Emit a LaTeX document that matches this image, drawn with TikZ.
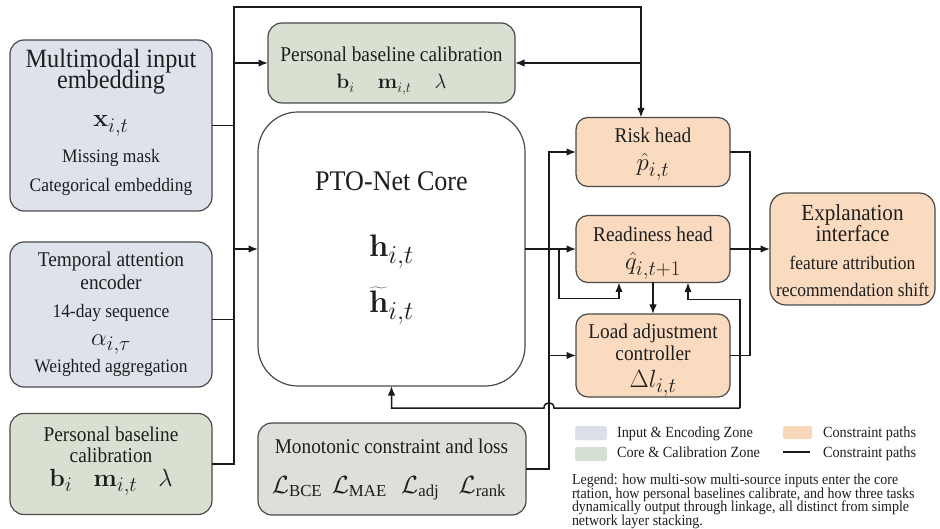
\documentclass[tikz,border=0pt]{standalone}
\usepackage{graphicx}
\usepackage{fontspec}
\setmainfont{Liberation Serif}
\DeclareMathAlphabet{\mbf}{OT1}{cmr}{bx}{n}
\newcommand\sz[2]{\fontsize{#1}{#2}\selectfont\addfontfeatures{FakeStretch=0.92}}
\usetikzlibrary{arrows.meta,calc}

\definecolor{edge}{HTML}{4A4A4A}
\definecolor{wire}{HTML}{1A1A1A}
\definecolor{ink}{HTML}{1E1E1E}
\definecolor{blueF}{HTML}{DDE2EB}
\definecolor{greenF}{HTML}{D8E0D1}
\definecolor{orangeF}{HTML}{FADBBF}
\definecolor{grayF}{HTML}{E0DEDA}
\definecolor{blueL}{HTML}{DADFE8}
\definecolor{greenL}{HTML}{D6DFD3}
\definecolor{orangeL}{HTML}{F8D8B8}

\begin{document}
\begin{tikzpicture}[x=1pt,y=-1pt,
  every node/.style={inner sep=0pt, outer sep=0pt},
  box/.style={draw=edge, line width=1.2pt, rounded corners=14pt},
  headbox/.style={box, fill=orangeF, rounded corners=12pt, minimum width=154pt},
  lbl/.style={anchor=base, text=ink},
  ttl/.style={lbl, font=\sz{26.4}{28}},
  hd/.style={lbl, font=\sz{21}{23}},
  sm/.style={lbl, font=\sz{19}{21}},
  mth/.style={lbl, font=\sz{24.88}{27}},
  lgd/.style={anchor=base west, text=ink, font=\sz{15.5}{16}},
  note/.style={anchor=base west, text=ink, font=\sz{15.2}{15}},
  swatch/.style={rounded corners=2pt, minimum width=32pt, minimum height=14pt},
  conn/.style={line width=1.5pt, draw=wire},
  arr/.style={conn, -{Latex[length=9.5pt,width=7.5pt]}},
]
\fill[white] (0,0) rectangle (940,529);
\useasboundingbox (0,0) rectangle (940,529);

% ---------- boxes ----------
\node[box, fill=blueF, minimum width=202pt, minimum height=171pt] (inp) at (111,125.5) {};
\node[box, fill=blueF, minimum width=202pt, minimum height=145pt] (tae) at (111,314.5) {};
\node[box, fill=greenF, minimum width=202pt, minimum height=101pt] (cal1) at (111,464) {};
\node[box, fill=greenF, minimum width=247pt, minimum height=80pt] (cal2) at (391.5,63) {};
\node[box, fill=white, rounded corners=40pt, minimum width=267pt, minimum height=274pt] (core) at (391.5,249) {};
\node[headbox, minimum height=69pt] (risk) at (653,152) {};
\node[headbox, minimum height=67pt] (ready) at (653,249) {};
\node[headbox, minimum height=83pt] (load) at (653,355.5) {};
\node[box, fill=orangeF, rounded corners=16pt, minimum width=165pt, minimum height=112pt] (expl) at (852.5,249) {};
\node[box, fill=grayF, minimum width=268pt, minimum height=92pt] (mono) at (392,469) {};

% ---------- box texts ----------
\node[ttl] (inpA) at (111,68) {Multimodal input};
\node[ttl] (inpB) at (111,89) {embedding};
\node[mth] (inpC) at (111,127) {$\mbf{x}_{i,t}$};
\node[sm]  (inpD) at (111,163) {Missing mask};
\node[sm]  (inpE) at (111,192) {Categorical embedding};

\node[hd]  (taeA) at (111,267) {Temporal attention};
\node[hd]  (taeB) at (111,290) {encoder};
\node[sm]  (taeC) at (111,318) {14-day sequence};
\node[mth] (taeD) at (111,345) {$\alpha_{i,\tau}$};
\node[sm]  (taeE) at (111,373) {Weighted aggregation};

\node[hd]  (calA) at (111,441) {Personal baseline};
\node[hd]  (calB) at (111,462) {calibration};
\node[mth] (calC) at (111,486) {$\mbf{b}_i\hspace{0.85em}\mbf{m}_{i,t}\hspace{0.85em}\lambda$};

\node[hd]  (cbA) at (391.5,62) {Personal baseline calibration};
\node[lbl, font=\sz{22}{24}] (cbB) at (391.5,89) {$\mbf{b}_i\hspace{1.05em}\mbf{m}_{i,t}\hspace{1.05em}\lambda$};

\node[lbl, font=\sz{28.4}{30}] (coreA) at (391.5,191) {PTO-Net Core};
\node[mth] (coreB) at (391.5,257) {\scalebox{1.25}{$\mbf{h}_{i,t}$}};
\node[mth] (coreC) at (391.5,313) {\scalebox{1.25}{$\widetilde{\mbf{h}}_{i,t}$}};

\node[hd]  (riskA) at (653,143) {Risk head};
\node[mth] (riskB) at (653,171) {$\hat{p}_{i,t}$};
\node[hd]  (readyA) at (653,242) {Readiness head};
\node[mth] (readyB) at (653,270) {$\hat{q}_{i,t+1}$};
\node[hd]  (loadA) at (653,338) {Load adjustment};
\node[hd]  (loadB) at (653,360) {controller};
\node[mth] (loadC) at (653,387) {$\Delta l_{i,t}$};

\node[lbl, font=\sz{23}{25}] (explA) at (852.5,221) {Explanation};
\node[lbl, font=\sz{23}{25}] (explB) at (852.5,242) {interface};
\node[sm]  (explC) at (852.5,270) {feature attribution};
\node[sm]  (explD) at (852.5,297) {recommendation shift};

\node[hd]  (monoA) at (391.5,453) {Monotonic constraint and loss};
\node[lbl, font=\sz{24}{26}] (monoB) at (389,493)
  {$\mathcal{L}_{\mathrm{BCE}}\hspace{0.4em}\mathcal{L}_{\mathrm{MAE}}\hspace{0.6em}\mathcal{L}_{\mathrm{adj}}\hspace{0.8em}\mathcal{L}_{\mathrm{rank}}$};

% ---------- connectors ----------
\coordinate (busTop) at (234,7);
\coordinate (riskIn) at ([xshift=-12pt]risk.north);
\draw[conn] (inp.east) -- (inp.east -| busTop);
\draw[conn] ([yshift=-5pt]tae.east) -- ([yshift=-5pt]tae.east -| busTop);
\draw[arr] (cal1.east) -| (busTop) -| (riskIn);
\draw[arr] (busTop |- cal2.west) -- (cal2.west);
\draw[arr] (busTop |- core.west) -- (core.west);
\draw[arr] (riskIn |- cal2.east) -- (cal2.east);

% core output into the readiness head, with a branch to its lower edge
\draw[arr] (core.east) -- (ready.west);
\coordinate (brA) at ([xshift=-17pt]ready.west);
\coordinate (brB) at ([xshift=-34pt,yshift=-16pt]ready.south);
\draw[arr] (brA) |- (brB) -- (brB |- ready.south);

% loss bus feeding the heads
\coordinate (mb) at ([xshift=-27pt]risk.west);
\draw[arr] (mono.east) -| (mb) -- (risk.west);
\draw[arr] (mb |- load.west) -- (load.west);

\draw[arr] (ready.south) -- (load.north);
\draw[conn] (risk.east) -| ([xshift=20pt]load.east) -- (load.east);
\draw[arr] (ready.east) -- (expl.west);

% feedback loop with a hop over the loss bus
\coordinate (fbR) at (740,408);
\coordinate (fbIn) at ([xshift=35pt]ready.south);
\draw[arr] (fbR) |- ([yshift=-17pt]fbIn) -- (fbIn);
\draw[arr] (fbR) -- ([xshift=5pt]mb |- fbR)
  .. controls +(0,-7) and +(0,-7) .. ([xshift=-5pt]mb |- fbR)
  -- (core.south |- fbR) -- (core.south);

% ---------- legend ----------
\node[swatch, fill=blueL] (lgA) at (591,433) {};
\node[swatch, fill=greenL] (lgB) at (591,454) {};
\node[swatch, fill=orangeL, minimum width=29pt, minimum height=13pt] (lgC) at (797.5,432.5) {};
\coordinate (lgD1) at (783,452);
\coordinate (lgD2) at (810,452);
\draw[conn, line width=1.3pt] (lgD1) -- (lgD2);
\node[lgd] (lgAt) at (617,437) {Input \& Encoding Zone};
\node[lgd] (lgBt) at (617,457) {Core \& Calibration Zone};
\node[lgd] (lgCt) at (823,437) {Constraint paths};
\node[lgd] (lgDt) at (823,457) {Constraint paths};
\node[note] (nt1) at (572,484) {Legend: how multi-sow multi-source inputs enter the core};
\node[note] (nt2) at (572,498) {rtation, how personal baselines calibrate, and how three tasks};
\node[note] (nt3) at (572,511.5) {dynamically output through linkage, all distinct from simple};
\node[note] (nt4) at (572,525) {network layer stacking.};
\end{tikzpicture}
\end{document}
